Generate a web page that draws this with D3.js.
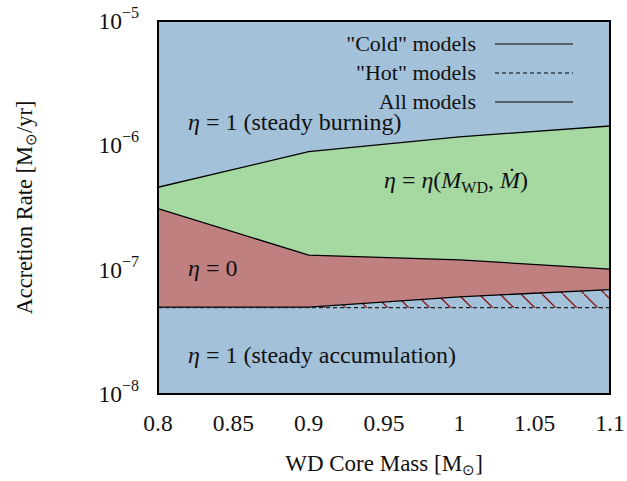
<!DOCTYPE html>
<html>
<head>
<meta charset="utf-8">
<script src="https://cdn.jsdelivr.net/npm/d3@7"></script>
<style>
  body { margin: 0; background: #fff; }
  svg text { font-family: "Liberation Serif", "Times New Roman", serif; fill: #111; }
</style>
</head>
<body>
<div id="chart"></div>
<script>
// WD core mass (Msun) and region boundaries (Msun/yr)
const mass = [0.8, 0.9, 1.0, 1.1];
const burnUpper = [4.6e-7, 8.9e-7, 1.17e-6, 1.43e-6];   // steady burning / variable eta
const burnLower = [3.1e-7, 1.31e-7, 1.2e-7, 1.01e-7];   // variable eta / eta = 0
const coldLower = [5.0e-8, 5.0e-8, 6.05e-8, 6.9e-8];    // "cold" models lower limit
const hotLower = [4.95e-8, 4.95e-8, 4.95e-8, 4.95e-8];  // "hot" models lower limit
const xTicks = [0.8, 0.85, 0.9, 0.95, 1, 1.05, 1.1];
const yTicks = [1e-8, 1e-7, 1e-6, 1e-5];
const legendItems = [
  {label: '"Cold" models', dash: null},
  {label: '"Hot" models', dash: '4,3'},
  {label: 'All models', dash: null}
];

const width = 627, height = 481;
const margin = {top: 21, right: 17, bottom: 87, left: 158};
const innerW = width - margin.left - margin.right;
const innerH = height - margin.top - margin.bottom;

const blue = '#a3c2da', green = '#a6d8a2', red = '#c08080';

const svg = d3.select('#chart').append('svg')
  .attr('width', width)
  .attr('height', height);

const x = d3.scaleLinear().domain([0.8, 1.1]).range([0, innerW]);
const y = d3.scaleLog().domain([1e-8, 1e-5]).range([innerH, 0]);

const defs = svg.append('defs');
const pat = defs.append('pattern')
  .attr('id', 'hatch')
  .attr('patternUnits', 'userSpaceOnUse')
  .attr('width', 21).attr('height', 21)
  .attr('x', 6);
pat.append('line')
  .attr('x1', 0).attr('y1', 0).attr('x2', 21).attr('y2', 21)
  .attr('stroke', '#8b1010').attr('stroke-width', 1.3);

defs.append('clipPath').attr('id', 'plotclip')
  .append('rect').attr('width', innerW).attr('height', innerH);

const g = svg.append('g')
  .attr('transform', `translate(${margin.left},${margin.top})`);

const plot = g.append('g').attr('clip-path', 'url(#plotclip)');

plot.append('rect')
  .attr('width', innerW).attr('height', innerH)
  .attr('fill', blue);

const idx = d3.range(mass.length);
const band = (lo, hi) => d3.area()
  .x(i => x(mass[i]))
  .y0(i => y(lo[i]))
  .y1(i => y(hi[i]));

plot.append('path').datum(idx).attr('d', band(burnLower, burnUpper)).attr('fill', green);
plot.append('path').datum(idx).attr('d', band(coldLower, burnLower)).attr('fill', red);
plot.append('path').datum(idx).attr('d', band(hotLower, coldLower)).attr('fill', 'url(#hatch)');

const line = arr => d3.line().x(i => x(mass[i])).y(i => y(arr[i]));
[burnUpper, burnLower, coldLower].forEach(arr => {
  plot.append('path').datum(idx).attr('d', line(arr))
    .attr('fill', 'none').attr('stroke', '#000').attr('stroke-width', 1.3);
});
plot.append('path').datum(idx).attr('d', line(hotLower))
  .attr('fill', 'none').attr('stroke', '#222').attr('stroke-width', 1.3)
  .attr('stroke-dasharray', '4,3');

// frame
g.append('rect')
  .attr('width', innerW).attr('height', innerH)
  .attr('fill', 'none').attr('stroke', '#000').attr('stroke-width', 2);

// region labels
const fs = 24;
function etaLabel(px, py, rest) {
  const t = g.append('text').attr('x', px).attr('y', py).attr('font-size', fs);
  t.append('tspan').attr('font-style', 'italic').text('η');
  t.append('tspan').text(' = ' + rest);
  return t;
}
etaLabel(30, 109, '1 (steady burning)');
etaLabel(30, 255, '0');
etaLabel(30, 342, '1 (steady accumulation)');

const mid = g.append('text').attr('x', 226).attr('y', 167).attr('font-size', fs);
mid.append('tspan').attr('font-style', 'italic').text('η');
mid.append('tspan').text(' = ');
mid.append('tspan').attr('font-style', 'italic').text('η');
mid.append('tspan').text('(');
mid.append('tspan').attr('font-style', 'italic').text('M');
mid.append('tspan').attr('font-size', 16).attr('dy', 5).text('WD');
mid.append('tspan').attr('dy', -5).text(', ');
mid.append('tspan').attr('font-style', 'italic').text('Ṁ');
mid.append('tspan').text(')');

// legend
const legend = g.append('g');
legendItems.forEach((d, i) => {
  const ly = 23 + i * 29;
  legend.append('text')
    .attr('x', 318).attr('y', ly + 7)
    .attr('text-anchor', 'end').attr('font-size', 22)
    .text(d.label);
  legend.append('line')
    .attr('x1', 337).attr('x2', 415).attr('y1', ly).attr('y2', ly)
    .attr('stroke', '#000').attr('stroke-width', 1.2)
    .attr('stroke-dasharray', d.dash);
});

// x tick labels
g.selectAll('.xt').data(xTicks).enter().append('text')
  .attr('class', 'xt')
  .attr('x', d => x(d)).attr('y', innerH + 37)
  .attr('text-anchor', 'middle').attr('font-size', 23.5)
  .text(d => d3.format('')(d));

// y tick labels
yTicks.forEach(v => {
  const t = g.append('text')
    .attr('x', -19).attr('y', y(v) + 8)
    .attr('text-anchor', 'end').attr('font-size', 23.5);
  t.append('tspan').text('10');
  t.append('tspan').attr('font-size', 16).attr('dy', -11)
    .text('−' + Math.round(-Math.log10(v)));
});

// axis titles
const xl = svg.append('text')
  .attr('x', margin.left + innerW / 2).attr('y', 471)
  .attr('text-anchor', 'middle').attr('font-size', 23);
xl.append('tspan').text('WD Core Mass [M');
xl.append('tspan').attr('font-size', 15).attr('dy', 4).text('⊙');
xl.append('tspan').attr('dy', -4).text(']');

const yl = svg.append('text')
  .attr('transform', `translate(32,${margin.top + innerH / 2}) rotate(-90)`)
  .attr('text-anchor', 'middle').attr('font-size', 22.5);
yl.append('tspan').text('Accretion Rate [M');
yl.append('tspan').attr('font-size', 15).attr('dy', 4).text('⊙');
yl.append('tspan').attr('dy', -4).text('/yr]');
</script>
</body>
</html>
